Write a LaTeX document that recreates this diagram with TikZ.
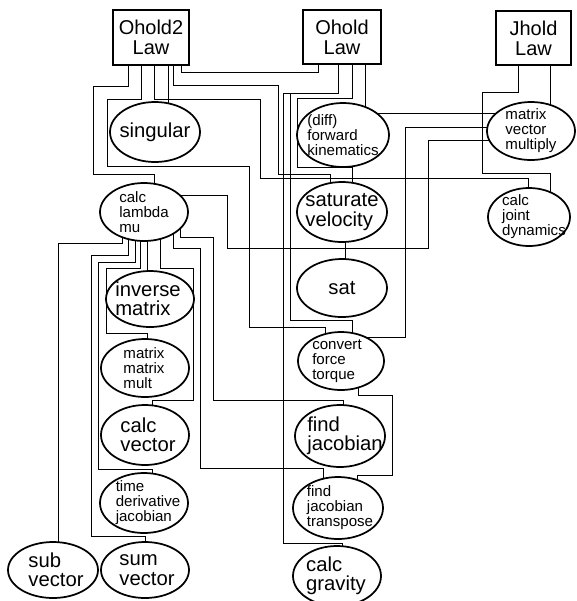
\documentclass[tikz,border=0pt]{standalone}
\usepackage{fontspec}
\setmainfont{Liberation Sans}
\usetikzlibrary{shapes.geometric,backgrounds}
\begin{document}
\begin{tikzpicture}[x=0.75pt,y=-0.75pt,
  box/.style={draw,fill=white,line width=1.4pt,inner sep=0pt,align=center,
    font=\fontsize{15}{15}\selectfont},
  ell/.style 2 args={ellipse,draw,fill=white,line width=1.3pt,inner sep=0pt,
    minimum width={#1*1.5pt},minimum height={#2*1.5pt}},
  big/.style={font=\fontsize{15.2}{14.5}\selectfont,align=left,inner sep=0pt},
  sm/.style={font=\fontsize{11.3}{11.3}\selectfont,align=left,inner sep=0pt},
  wire/.style={line width=1.1pt}]
\useasboundingbox (0,0) rectangle (576,601);

% control laws
\node[box,minimum width=57pt,minimum height=41pt] (o2) at (151,37.5) {Ohold2\\Law};
\node[box,minimum width=58.5pt,minimum height=40.5pt] (oh) at (342,37) {Ohold\\Law};
\node[box,minimum width=56pt,minimum height=40.5pt] (jh) at (533.5,38) {Jhold\\Law};

% modules
\node[ell={45}{30}] (sing) at (155,132) {};
\node[ell={46}{32}] (fk) at (343,135) {};
\node[ell={44}{29}] (mvm) at (531,131) {};
\node[ell={44}{29}] (cl) at (144,212) {};
\node[ell={45}{30}] (sv) at (342,212) {};
\node[ell={41}{29}] (cjd) at (529,217) {};
\node[ell={45}{29}] (sat) at (342,288) {};
\node[ell={44}{28}] (inv) at (150,299) {};
\node[ell={43}{29}] (cft) at (341,361) {};
\node[ell={44}{29}] (mmm) at (145,368) {};
\node[ell={44}{30}] (cv) at (145,435) {};
\node[ell={45}{31}] (fj) at (340,436) {};
\node[ell={44}{30}] (tdj) at (144,503) {};
\node[ell={45}{31}] (fjt) at (338,508) {};
\node[ell={45}{28}] (subv) at (53,570) {};
\node[ell={44}{28}] (sumv) at (145,570) {};
\node[ell={44}{30}] (cg) at (337,576) {};

% module names
\node[big] (tsing) at (sing) {singular};
\node[sm] (tfk) at (343,135) {(diff)\\forward\\kinematics};
\node[sm] (tmvm) at (531,131) {matrix\\vector\\multiply};
\node[sm] (tcl) at (144,212) {calc\\lambda\\mu};
\node[big] (tsv) at (342,212) {saturate\\velocity};
\node[sm] (tcjd) at (534,217) {calc\\joint\\dynamics};
\node[big] (tsat) at (sat) {sat};
\node[big] (tinv) at (148,299) {inverse\\matrix};
\node[sm] (tcft) at (337,361) {convert\\force\\torque};
\node[sm] (tmmm) at (144,368) {matrix\\matrix\\mult};
\node[big] (tcv) at (148,435) {calc\\vector};
\node[big] (tfj) at (345,436) {find\\jacobian};
\node[sm] (ttdj) at (148,503) {time\\derivative\\jacobian};
\node[sm] (tfjt) at (340,508) {find\\jacobian\\transpose};
\node[big] (tsubv) at (56,570) {sub\\vector};
\node[big] (tsumv) at (147,570) {sum\\vector};
\node[big] (tcg) at (336,576) {calc\\gravity};

\begin{scope}[on background layer,wire]
% Ohold2 Law outputs
\draw (128,0 |- o2) -- (128,86) -- (93,86) -- (93,174) -- (154,174) -- (154,0 |- cl);
\draw (141,0 |- o2) -- (141,99) -- (107,99) -- (107,166) -- (249,166) -- (249,327)
      -- (325,327) -- (325,0 |- cft);
\draw (154,0 |- o2) -- (154,99) -- (260,99) -- (260,178) -- (528,178) -- (528,0 |- cjd);
\draw (168,0 |- o2) -- (168,0 |- sing);
\draw (173,0 |- o2) -- (173,85) -- (278,85) -- (278,174) -- (330,174) -- (330,0 |- sv);
\draw (181,0 |- o2) -- (181,72) -- (318,72) -- (318,0 |- oh);
% Ohold Law outputs
\draw (338,0 |- oh) -- (338,93) -- (283,93) -- (283,543) -- (342,543) -- (342,0 |- cg);
\draw (290,93) -- (290,320) -- (352,320) -- (352,0 |- cft);
\draw (352,0 |- oh) -- (352,98) -- (297,98) -- (297,167) -- (352,167) -- (352,0 |- sv);
\draw (365,0 |- oh) -- (365,0 |- fk);
% Jhold Law outputs
\draw (518,0 |- jh) -- (518,92) -- (482,92) -- (482,173) -- (550,173) -- (550,0 |- cjd);
\draw (550,0 |- jh) -- (550,0 |- mvm);
% matrix vector multiply
\draw (fk |- 0,113) -- (mvm |- 0,113);
\draw (mvm |- 0,127) -- (405,127) -- (405,337) -- (cft |- 0,337);
\draw (mvm |- 0,140) -- (428,140) -- (428,248) -- (227,248) -- (227,195) -- (cl |- 0,195);
% saturation
\draw (345,0 |- sv) -- (345,0 |- sat);
\draw (358,0 |- cft) -- (358,395) -- (392,395) -- (392,475) -- (357,475) -- (357,0 |- fjt);
% calc lambda mu outputs
\draw (122,0 |- cl) -- (122,243) -- (58,243) -- (58,0 |- subv);
\draw (128,0 |- cl) -- (128,255) -- (91,255) -- (91,536) -- (145,536) -- (145,0 |- sumv);
\draw (135,0 |- cl) -- (135,262) -- (98,262) -- (98,469) -- (152,469) -- (152,0 |- tdj);
\draw (140,0 |- cl) -- (140,268) -- (106,268) -- (106,333) -- (147,333) -- (147,0 |- mmm);
\draw (147,0 |- cl) -- (147,0 |- inv);
\draw (160,0 |- cl) -- (160,268) -- (193,268) -- (193,400) -- (152,400) -- (152,0 |- cv);
\draw (173,0 |- cl) -- (173,248) -- (200,248) -- (200,468) -- (323,468) -- (323,0 |- fjt);
\draw (180,0 |- cl) -- (180,237) -- (213,237) -- (213,400) -- (343,400) -- (343,0 |- fj);
\end{scope}
\end{tikzpicture}
\end{document}
